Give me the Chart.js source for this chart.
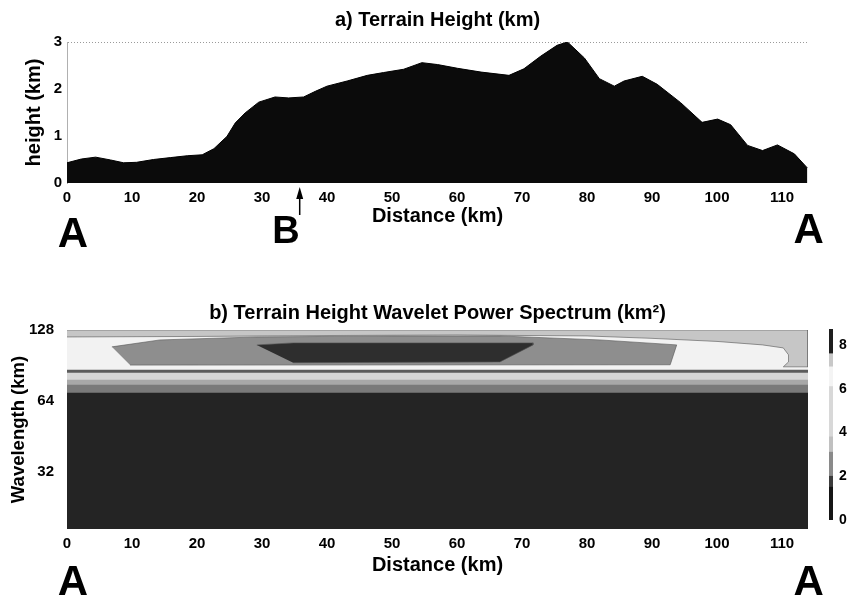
<!DOCTYPE html>
<html>
<head>
<meta charset="utf-8">
<script src="https://cdn.jsdelivr.net/npm/chart.js@4.4.1/dist/chart.umd.min.js"></script>
<style>
  html, body { margin: 0; padding: 0; background: #fff; }
  body { width: 848px; height: 599px; position: relative; overflow: hidden; }
  canvas { position: absolute; }
  #terrain { left: 0; top: 0; }
  #wavelet { left: 0; top: 290px; }
  #colorbar { left: 800px; top: 290px; }
</style>
</head>
<body>
<canvas id="terrain" width="848" height="290"></canvas>
<canvas id="wavelet" width="848" height="309"></canvas>
<canvas id="colorbar" width="48" height="300"></canvas>
<script>
// a) terrain profile along A-B-A
const distanceKm = [0, 2.2, 4.4, 6.7, 8.7, 10.7, 13.3, 15.9, 18.5, 20.8, 22.6, 24.6, 25.9, 27.4, 29.5, 32.0,
  34.1, 36.4, 38.2, 40, 43.1, 46.2, 48.7, 51.8, 54.6, 57, 60.1, 63.7, 68, 70.3, 72.9, 75.4, 77, 79.6, 81.9,
  84.2, 85.7, 88.5, 90.8, 94.4, 97.7, 100.1, 102.1, 104.7, 107, 109.3, 111.9, 113.9];
const heightKm = [0.43, 0.51, 0.55, 0.49, 0.43, 0.44, 0.50, 0.54, 0.58, 0.60, 0.73, 0.99, 1.28, 1.49, 1.72, 1.83,
  1.81, 1.83, 1.95, 2.06, 2.17, 2.29, 2.35, 2.42, 2.56, 2.52, 2.44, 2.36, 2.29, 2.43, 2.70, 2.93, 3.0, 2.66, 2.22,
  2.06, 2.17, 2.27, 2.10, 1.71, 1.29, 1.36, 1.24, 0.80, 0.69, 0.81, 0.62, 0.32];

const distanceTicks = [0, 10, 20, 30, 40, 50, 60, 70, 80, 90, 100, 110];
const heightTicks = [0, 1, 2, 3];
const wavelengthTicks = [32, 64, 128];
const powerTicks = [0, 2, 4, 6, 8];

// b) wavelet power: full-width bands, lower edge wavelength (km), bottom to top
const bandFromKm = [18.4, 69.5, 75.1, 78.8, 84.4, 86.9];
const bandShade = ['#242424', '#7a7a7a', '#a8a8a8', '#d6d6d6', '#5c5c5c', '#f2f2f2'];

// b) closed contours: [distance km, wavelength km]
const upperBandOutline = [[0, 128], [114, 128], [114, 89.4], [110.2, 89.4], [111, 93.8], [111, 100.5], [110.2, 107.5],
  [107, 110.7], [100, 114.5], [90, 118], [80, 120.8], [60, 121.9], [40, 121.3], [20, 120.2], [0, 119.6]];
const midPowerOutline = [[6.9, 108.6], [14.3, 116.2], [29.2, 119.6], [50, 120.8], [66.6, 120.8], [82, 116.2],
  [93.8, 110.7], [92.8, 91.2], [9.7, 90.9]];
const highPowerOutline = [[29.2, 110.7], [34.8, 112.9], [71.7, 112.9], [71.7, 110.7], [66.6, 93.8], [34.8, 93.0]];
const contourShade = ['#c6c6c6', '#8e8e8e', '#2e2e2e'];

// colour bar segments (power km^2)
const colorbarLo = [0, 1.5, 2.0, 3.1, 3.8, 6.1, 7.0, 7.6];
const colorbarHi = [1.5, 2.0, 3.1, 3.8, 6.1, 7.0, 7.6, 8.73];
const colorbarShade = ['#151515', '#3c3c3c', '#8a8a8a', '#c0c0c0', '#d8d8d8', '#f4f4f4', '#c8c8c8', '#1e1e1e'];

const FAMILY = '"Liberation Sans", Arial, sans-serif';
const tickFont = { family: FAMILY, size: 15, weight: 'bold' };
const titleFont = { family: FAMILY, size: 20, weight: 'bold' };

const marks = {
  id: 'marks',
  afterDraw(chart, args, opts) {
    const ctx = chart.ctx;
    const xs = chart.scales.x;
    ctx.save();
    ctx.fillStyle = '#000';
    ctx.strokeStyle = '#000';
    ctx.textAlign = 'center';
    ctx.textBaseline = 'alphabetic';
    (opts.letters || []).forEach(m => {
      ctx.font = 'bold ' + m.size + 'px ' + FAMILY;
      ctx.fillText(m.text, xs.getPixelForValue(m.km), m.y);
    });
    if (opts.arrowKm != null) {
      const x = xs.getPixelForValue(opts.arrowKm);
      ctx.lineWidth = 1.5;
      ctx.beginPath();
      ctx.moveTo(x, 215);
      ctx.lineTo(x, 196);
      ctx.stroke();
      ctx.beginPath();
      ctx.moveTo(x, 187);
      ctx.lineTo(x - 3.5, 199);
      ctx.lineTo(x + 3.5, 199);
      ctx.closePath();
      ctx.fill();
    }
    ctx.restore();
  }
};

new Chart(document.getElementById('terrain'), {
  type: 'line',
  data: {
    datasets: [{
      data: distanceKm.map((d, i) => ({ x: d, y: heightKm[i] })),
      fill: 'origin',
      backgroundColor: '#0b0b0b',
      borderColor: '#000',
      borderWidth: 1,
      pointRadius: 0,
      tension: 0
    }]
  },
  plugins: [marks],
  options: {
    responsive: false,
    animation: false,
    events: [],
    layout: { padding: { left: 0, right: 40, top: 0, bottom: 58 } },
    plugins: {
      legend: { display: false },
      tooltip: { enabled: false },
      title: {
        display: true, text: 'a) Terrain Height (km)', fullSize: false,
        color: '#000', font: titleFont, padding: { top: 8, bottom: 10 }
      },
      marks: {
        letters: [
          { text: 'A', km: 0.9, y: 247, size: 42 },
          { text: 'B', km: 33.7, y: 243, size: 38 },
          { text: 'A', km: 114.1, y: 243, size: 42 }
        ],
        arrowKm: 35.8
      }
    },
    scales: {
      x: {
        type: 'linear', min: 0, max: 114,
        afterBuildTicks: s => { s.ticks = distanceTicks.map(v => ({ value: v })); },
        afterFit: s => { s.height = 49; },
        grid: { display: false },
        border: { display: false },
        ticks: { padding: -2, color: '#000', font: tickFont },
        title: { display: true, text: 'Distance (km)', color: '#000', font: titleFont, padding: { top: 0, bottom: 4 } }
      },
      y: {
        min: 0, max: 3,
        afterBuildTicks: s => { s.ticks = heightTicks.map(v => ({ value: v })); },
        afterFit: s => { s.width = 67; },
        grid: { drawTicks: false, color: c => (c.tick && c.tick.value === 3) ? '#9a9a9a' : 'rgba(0,0,0,0)' },
        border: { display: true, color: '#b0b0b0', dash: [1, 2] },
        ticks: { padding: 5, color: '#000', font: tickFont },
        title: { display: true, text: 'height (km)', color: '#000', font: titleFont, padding: { top: 22, bottom: 0 } }
      }
    }
  }
});

// layers bottom -> top; lower order is drawn later (on top)
const layers = [];
bandFromKm.forEach((w, i) => {
  layers.push({
    data: [{ x: 0, y: w }, { x: 114, y: w }],
    fill: 'end', backgroundColor: bandShade[i], borderWidth: 0
  });
});
[upperBandOutline, midPowerOutline, highPowerOutline].forEach((poly, i) => {
  layers.push({
    data: poly.map(p => ({ x: p[0], y: p[1] })),
    fill: 'shape', backgroundColor: contourShade[i], borderColor: '#555', borderWidth: 0.6
  });
});
layers.forEach((l, i) => { l.order = layers.length - i; l.pointRadius = 0; l.tension = 0; });

new Chart(document.getElementById('wavelet'), {
  type: 'line',
  data: { datasets: layers },
  plugins: [marks],
  options: {
    responsive: false,
    animation: false,
    events: [],
    layout: { padding: { left: 0, right: 40, top: 0, bottom: 9 } },
    plugins: {
      legend: { display: false },
      tooltip: { enabled: false },
      title: {
        display: true, text: 'b) Terrain Height Wavelet Power Spectrum (km²)', fullSize: false,
        color: '#000', font: titleFont, padding: { top: 11, bottom: 5 }
      },
      marks: {
        letters: [
          { text: 'A', km: 0.9, y: 305, size: 42 },
          { text: 'A', km: 114.1, y: 305, size: 42 }
        ]
      }
    },
    scales: {
      x: {
        type: 'linear', min: 0, max: 114,
        afterBuildTicks: s => { s.ticks = distanceTicks.map(v => ({ value: v })); },
        afterFit: s => { s.height = 61; },
        grid: { display: false },
        border: { display: false },
        ticks: { padding: -2, color: '#000', font: tickFont },
        title: { display: true, text: 'Distance (km)', color: '#000', font: titleFont, padding: { top: 0, bottom: 13 } }
      },
      y: {
        type: 'logarithmic', min: 18.4, max: 128,
        afterBuildTicks: s => { s.ticks = wavelengthTicks.map(v => ({ value: v })); },
        afterFit: s => { s.width = 67; },
        grid: { display: false },
        border: { display: false },
        ticks: { padding: 5, color: '#000', font: tickFont, callback: v => String(v) },
        title: { display: true, text: 'Wavelength (km)', color: '#000', font: { family: FAMILY, size: 18.5, weight: 'bold' }, padding: { top: 8, bottom: 0 } }
      }
    }
  }
});

new Chart(document.getElementById('colorbar'), {
  type: 'bar',
  data: {
    labels: [''],
    datasets: colorbarLo.map((lo, i) => ({
      data: [[lo, colorbarHi[i]]],
      backgroundColor: colorbarShade[i],
      borderWidth: 0,
      barPercentage: 1,
      categoryPercentage: 1,
      grouped: false
    }))
  },
  options: {
    responsive: false,
    animation: false,
    events: [],
    layout: { padding: { left: 29, top: 39, right: 0, bottom: 70 } },
    plugins: { legend: { display: false }, tooltip: { enabled: false } },
    scales: {
      x: { display: false },
      y: {
        position: 'right', min: 0, max: 8.73,
        afterBuildTicks: s => { s.ticks = powerTicks.map(v => ({ value: v })); },
        afterFit: s => { s.width = 15; },
        grid: { display: false, drawTicks: false },
        border: { display: false },
        ticks: { padding: 6, color: '#000', font: { family: FAMILY, size: 14, weight: 'bold' } }
      }
    }
  }
});
</script>
</body>
</html>
